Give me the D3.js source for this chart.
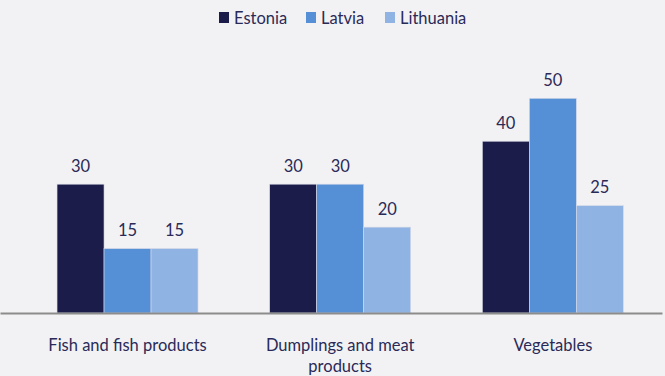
<!DOCTYPE html>
<html><head><meta charset="utf-8">
<script src="https://cdn.jsdelivr.net/npm/d3@7"></script>
<style>body{margin:0;background:#f2f2f4;}svg{display:block;}</style>
</head><body>
<svg id="c" width="665" height="376"></svg>
<script>
const categories = [["Fish and fish products"], ["Dumplings and meat", "products"], ["Vegetables"]];
const seriesNames = ["Estonia", "Latvia", "Lithuania"];
const estonia = [30, 30, 40];
const latvia = [15, 30, 50];
const lithuania = [15, 20, 25];
const colors = ["#1c1c4a", "#5590d6", "#8fb4e3"];

const series = [estonia, latvia, lithuania];
const svg = d3.select("#c");
const font = "Lato, 'Open Sans', sans-serif";
const fs = 16.5;
const textColor = "#2a2a58";

svg.append("rect").attr("width", 665).attr("height", 376).attr("fill", "#f2f2f4");

const x0 = d3.scaleBand().domain(d3.range(categories.length)).range([21.2, 659.2]).paddingInner(0.337).paddingOuter(0.1685);
const x1 = d3.scaleBand().domain(d3.range(seriesNames.length)).range([0, x0.bandwidth()]);
const y = d3.scaleLinear().domain([0, 50]).range([313, 98.3]);

const g = svg.append("g");
categories.forEach((c, i) => {
  series.forEach((s, j) => {
    const v = s[i];
    g.append("rect")
      .attr("x", x0(i) + x1(j))
      .attr("y", y(v))
      .attr("width", x1.bandwidth())
      .attr("height", y(0) - y(v))
      .attr("fill", colors[j])
      .attr("stroke", "#d8dbe8").attr("stroke-width", 0.6);
    g.append("text")
      .attr("x", x0(i) + x1(j) + x1.bandwidth() / 2)
      .attr("y", y(v) - 12.5)
      .attr("text-anchor", "middle")
      .attr("font-family", font).attr("font-size", fs)
      .attr("fill", textColor)
      .text(v);
  });
  const t = g.append("text")
    .attr("text-anchor", "middle")
    .attr("font-family", font).attr("font-size", fs)
    .attr("fill", textColor);
  c.forEach((line, k) => {
    t.append("tspan").attr("x", x0(i) + x0.bandwidth() / 2).attr("y", 350.5 + k * 21).text(line);
  });
});

// baseline axis
const xAxis = d3.axisBottom(d3.scaleLinear().domain([0, 1]).range([0, 662])).ticks(0).tickSize(0).tickSizeOuter(0);
const ax = svg.append("g").attr("transform", `translate(0,${y(0)})`).call(xAxis);
ax.select(".domain").attr("stroke", "#8c8c8c").attr("stroke-width", 2.2);
ax.selectAll("text").remove();

// legend
const legendX = [219, 306, 385];
const leg = svg.append("g");
seriesNames.forEach((n, j) => {
  leg.append("rect").attr("x", legendX[j]).attr("y", 12).attr("width", 10).attr("height", 11).attr("fill", colors[j]);
  leg.append("text").attr("x", legendX[j] + 15).attr("y", 23.5)
    .attr("font-family", font).attr("font-size", fs).attr("fill", textColor).text(n);
});
</script>
</body></html>
